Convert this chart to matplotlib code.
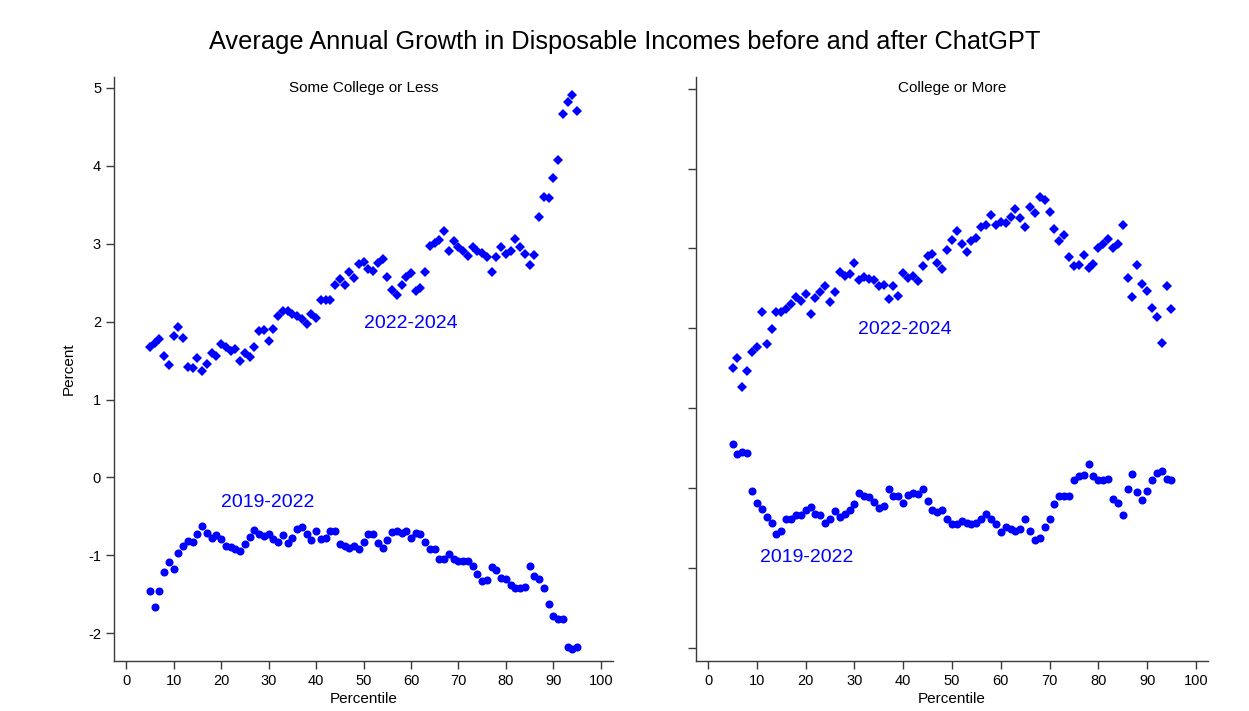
"""
    disposable income growth by percentile, before / after ChatGPT
"""

import numpy
from matplotlib import pyplot as plt

pct = numpy.arange(5, 96)

# Some College or Less
low_2224 = [1.68, 1.73, 1.77, 1.56, 1.44, 1.81, 1.93, 1.79, 1.42, 1.41,
            1.53, 1.37, 1.46, 1.60, 1.56, 1.71, 1.67, 1.62, 1.65, 1.50,
            1.60, 1.55, 1.67, 1.88, 1.89, 1.75, 1.91, 2.07, 2.14, 2.14,
            2.10, 2.07, 2.03, 1.97, 2.10, 2.04, 2.27, 2.27, 2.27, 2.47,
            2.55, 2.47, 2.63, 2.56, 2.74, 2.76, 2.67, 2.65, 2.75, 2.80,
            2.57, 2.41, 2.34, 2.47, 2.57, 2.62, 2.39, 2.43, 2.64, 2.97,
            3.01, 3.05, 3.16, 2.91, 3.03, 2.96, 2.90, 2.84, 2.96, 2.91,
            2.88, 2.83, 2.64, 2.83, 2.96, 2.86, 2.91, 3.06, 2.95, 2.86,
            2.73, 2.85, 3.34, 3.60, 3.59, 3.84, 4.07, 4.66, 4.81, 4.91,
            4.70]
low_1922 = [-1.45, -1.66, -1.45, -1.21, -1.08, -1.17, -0.97, -0.88, -0.82, -0.83,
            -0.72, -0.62, -0.71, -0.78, -0.74, -0.79, -0.88, -0.89, -0.92, -0.94,
            -0.85, -0.76, -0.67, -0.73, -0.75, -0.72, -0.79, -0.83, -0.74, -0.84,
            -0.78, -0.66, -0.64, -0.72, -0.80, -0.68, -0.79, -0.77, -0.68, -0.69,
            -0.85, -0.88, -0.90, -0.88, -0.92, -0.83, -0.73, -0.72, -0.84, -0.90,
            -0.80, -0.70, -0.69, -0.71, -0.68, -0.77, -0.71, -0.72, -0.83, -0.92,
            -0.92, -1.04, -1.04, -0.98, -1.05, -1.07, -1.07, -1.07, -1.14, -1.24,
            -1.33, -1.31, -1.15, -1.19, -1.29, -1.30, -1.38, -1.42, -1.42, -1.40,
            -1.14, -1.26, -1.30, -1.42, -1.62, -1.77, -1.81, -1.82, -2.17, -2.20,
            -2.18]

# College or More
high_2224 = [1.50, 1.63, 1.26, 1.47, 1.71, 1.77, 2.20, 1.80, 1.99, 2.21,
             2.20, 2.24, 2.30, 2.39, 2.34, 2.43, 2.18, 2.38, 2.45, 2.53,
             2.33, 2.46, 2.70, 2.65, 2.68, 2.82, 2.60, 2.64, 2.62, 2.61,
             2.53, 2.54, 2.37, 2.53, 2.41, 2.69, 2.63, 2.65, 2.59, 2.78,
             2.91, 2.93, 2.82, 2.74, 2.98, 3.10, 3.22, 3.06, 2.96, 3.09,
             3.13, 3.27, 3.30, 3.42, 3.29, 3.33, 3.32, 3.40, 3.49, 3.38,
             3.27, 3.52, 3.44, 3.65, 3.61, 3.46, 3.25, 3.09, 3.17, 2.89,
             2.78, 2.79, 2.92, 2.75, 2.81, 3.00, 3.06, 3.12, 3.00, 3.06,
             3.29, 2.63, 2.39, 2.79, 2.56, 2.47, 2.25, 2.14, 1.82, 2.53,
             2.24]
high_1922 = [0.55, 0.43, 0.45, 0.44, -0.04, -0.18, -0.26, -0.36, -0.43, -0.57,
             -0.53, -0.39, -0.38, -0.34, -0.33, -0.27, -0.23, -0.32, -0.33, -0.44,
             -0.38, -0.28, -0.36, -0.32, -0.27, -0.20, -0.06, -0.10, -0.11, -0.17,
             -0.25, -0.22, -0.01, -0.10, -0.10, -0.18, -0.09, -0.06, -0.07, -0.01,
             -0.16, -0.27, -0.30, -0.27, -0.38, -0.45, -0.45, -0.41, -0.43, -0.45,
             -0.43, -0.38, -0.32, -0.38, -0.45, -0.55, -0.48, -0.51, -0.54, -0.51,
             -0.39, -0.53, -0.65, -0.62, -0.48, -0.39, -0.20, -0.10, -0.10, -0.10,
             0.10, 0.15, 0.17, 0.30, 0.15, 0.10, 0.10, 0.11, -0.13, -0.19,
             -0.34, -0.01, 0.18, -0.05, -0.15, -0.03, 0.10, 0.19, 0.22, 0.12,
             0.10]

xticks = list(range(0, 101, 10))
yticks = list(range(-2, 6))

plt.rcParams['font.family'] = ['Liberation Sans', 'DejaVu Sans']
plt.rcParams['axes.unicode_minus'] = False
blue = '#0000ff'
spine = '#3a3a3a'


def setup(ax, title, ylim, labels=True) :
    ax.set_xlim(-2.5, 102.5)
    ax.set_ylim(*ylim)
    ax.set_xticks(xticks)
    ax.set_yticks(yticks)
    if not labels :
        ax.set_yticklabels([])
    for side in ['top', 'right'] :
        ax.spines[side].set_visible(False)
    for side in ['left', 'bottom'] :
        ax.spines[side].set_color(spine)
        ax.spines[side].set_linewidth(1.0)
    ax.tick_params(colors=spine, labelcolor='black', labelsize=10.5, length=6, width=1.0)
    ax.set_xlabel("Percentile", fontsize=11, labelpad=3)
    ax.text(0.5, 0.98, title, transform=ax.transAxes, ha='center', va='center', fontsize=11)


fig = plt.figure(figsize=(12.49, 7.11), dpi=100)
fig.patch.set_facecolor('white')

ax1 = fig.add_axes([0.0915, 0.0707, 0.3991, 0.8214])
ax2 = fig.add_axes([0.5572, 0.0707, 0.4100, 0.8214])

ax1.plot(pct, low_2224, 'D', color=blue, markersize=5.1, markeredgewidth=0)
ax1.plot(pct, low_1922, 'o', color=blue, markersize=5.8, markeredgewidth=0)
setup(ax1, "Some College or Less", (-2.35, 5.14))
ax1.set_ylabel("Percent", fontsize=11, labelpad=9)
ax1.text(50, 1.98, "2022-2024", color=blue, fontsize=14, va='center', ha='left')
ax1.text(20, -0.32, "2019-2022", color=blue, fontsize=14, va='center', ha='left')

ax2.plot(pct, high_2224, 'D', color=blue, markersize=5.1, markeredgewidth=0)
ax2.plot(pct, high_1922, 'o', color=blue, markersize=5.8, markeredgewidth=0)
setup(ax2, "College or More", (-2.16, 5.15), labels=False)
ax2.text(30.8, 1.98, "2022-2024", color=blue, fontsize=14, va='center', ha='left')
ax2.text(10.7, -0.87, "2019-2022", color=blue, fontsize=14, va='center', ha='left')

fig.text(0.5, 1 - 42 / 711, "Average Annual Growth in Disposable Incomes before and after ChatGPT",
         ha='center', va='center', fontsize=18.3)

fig.savefig("out.png", dpi=100)
